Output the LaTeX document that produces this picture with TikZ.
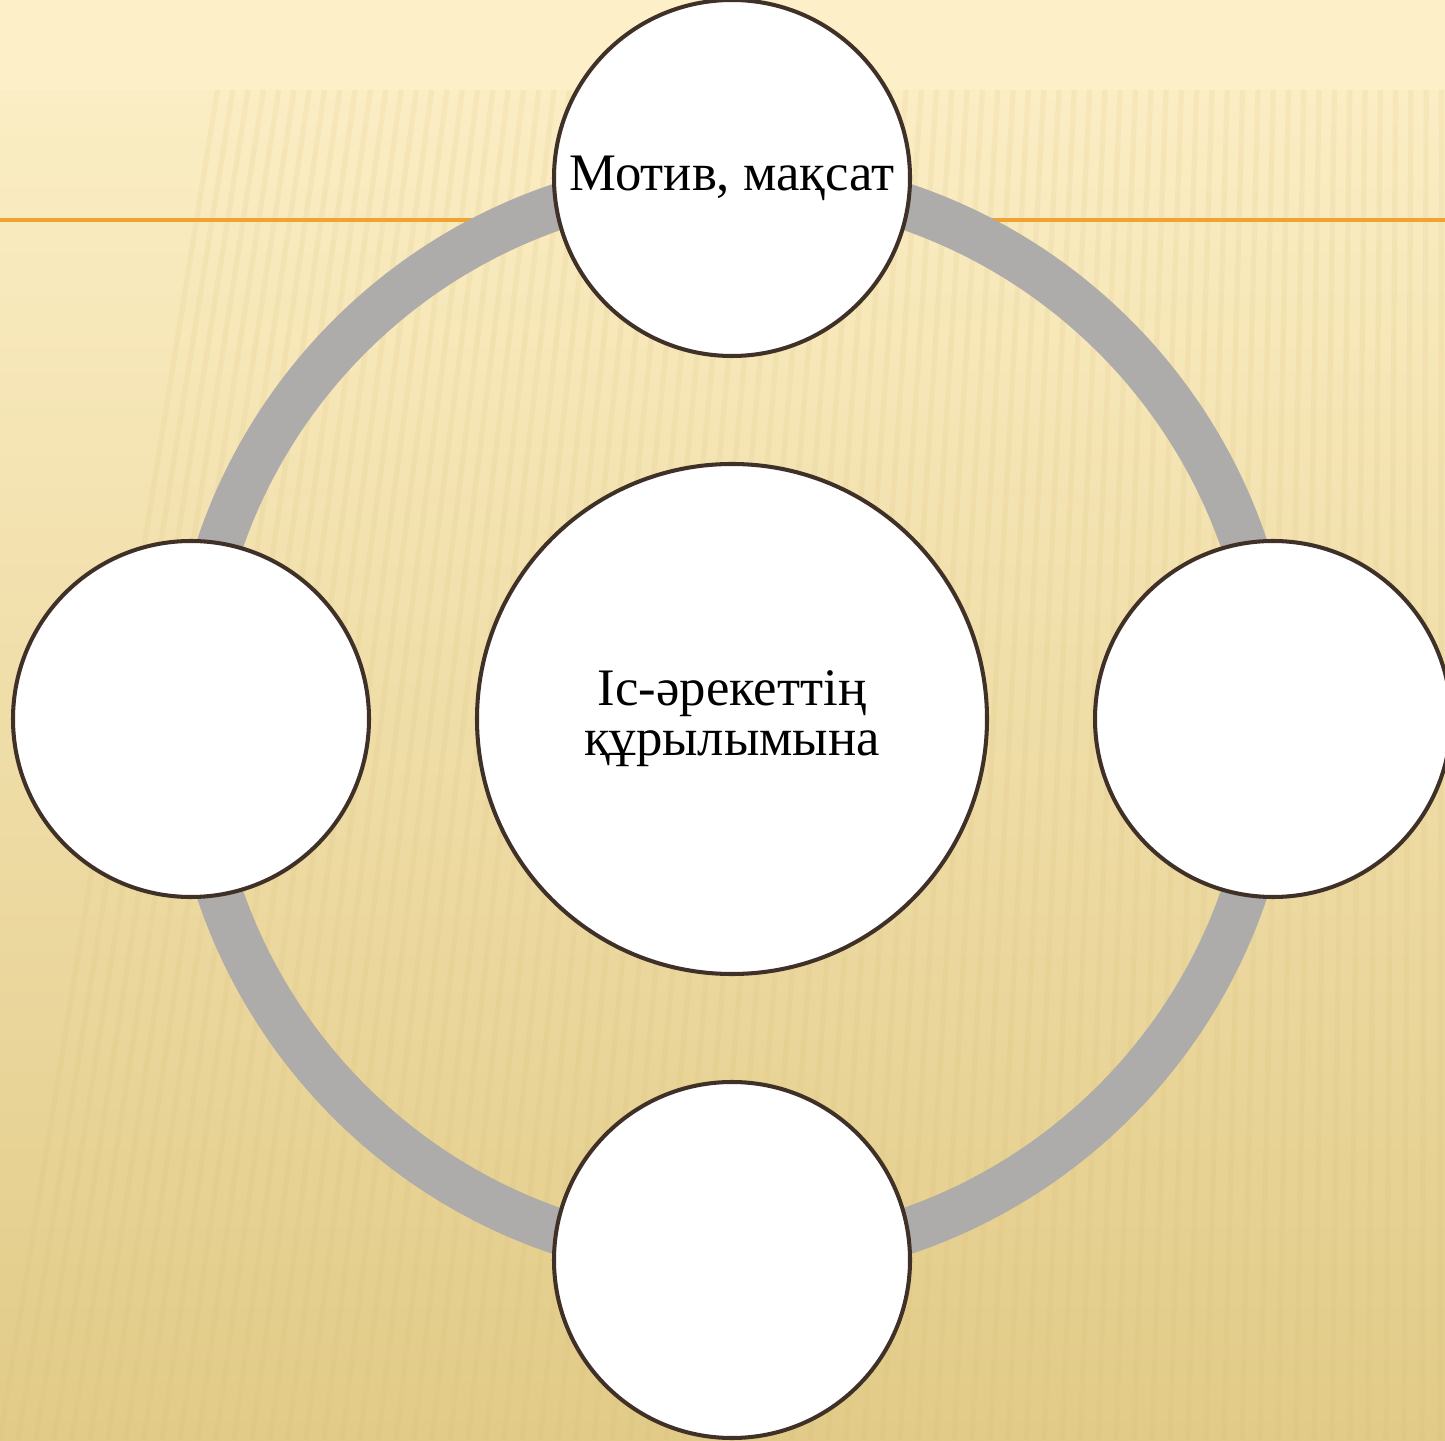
\documentclass[tikz,border=0pt]{standalone}
\usepackage{fontspec}
\setmainfont{Liberation Serif}
\definecolor{paper}{RGB}{253,240,200}
\definecolor{paperdeep}{RGB}{246,228,165}
\definecolor{sand}{RGB}{226,203,136}
\definecolor{stripe}{RGB}{214,184,110}
\definecolor{rule}{RGB}{240,163,48}
\definecolor{ringgray}{RGB}{173,172,170}
\definecolor{rim}{RGB}{64,49,40}
\tikzset{
  disc/.style={circle,draw=rim,line width=2.3pt,fill=white,inner sep=0pt,
    align=center,font=\fontsize{30}{28.5}\selectfont},
  sat/.style={disc,minimum size=7.12cm},
  core/.style={disc,minimum size=10.2cm},
  ring/.style={draw=ringgray,line width=0.92cm}
}
\begin{document}
\begin{tikzpicture}
	\useasboundingbox (0,0) rectangle (28.9,28.8);
	% background
	\shade[top color=paper,middle color=paperdeep,bottom color=sand] (0,0) rectangle (28.9,28.8);
	\fill[paper] (0,27.0) rectangle (28.9,28.8);
	\foreach \x in {0,0.36,...,29.2}
		\draw[stripe,line width=3pt,opacity=0.12] (\x,0) -- ({\x+0.15*(29-\x)},27.0);
	\draw[rule,line width=1.8pt] (0,24.4) -- (28.9,24.4);
	% circles
	\coordinate (mid) at (14.64,14.42);
	\draw[ring] (mid) circle[radius=10.82cm];
	\node[core] (act) at (mid) {Іс-әрекеттің\\құрылымына};
	\node[sat] (goal) at (14.64,25.24) {Мотив, мақсат};
	\node[sat] (west) at (3.82,14.42) {};
	\node[sat] (east) at (25.46,14.42) {};
	\node[sat] (south) at (14.64,3.60) {};
\end{tikzpicture}
\end{document}
